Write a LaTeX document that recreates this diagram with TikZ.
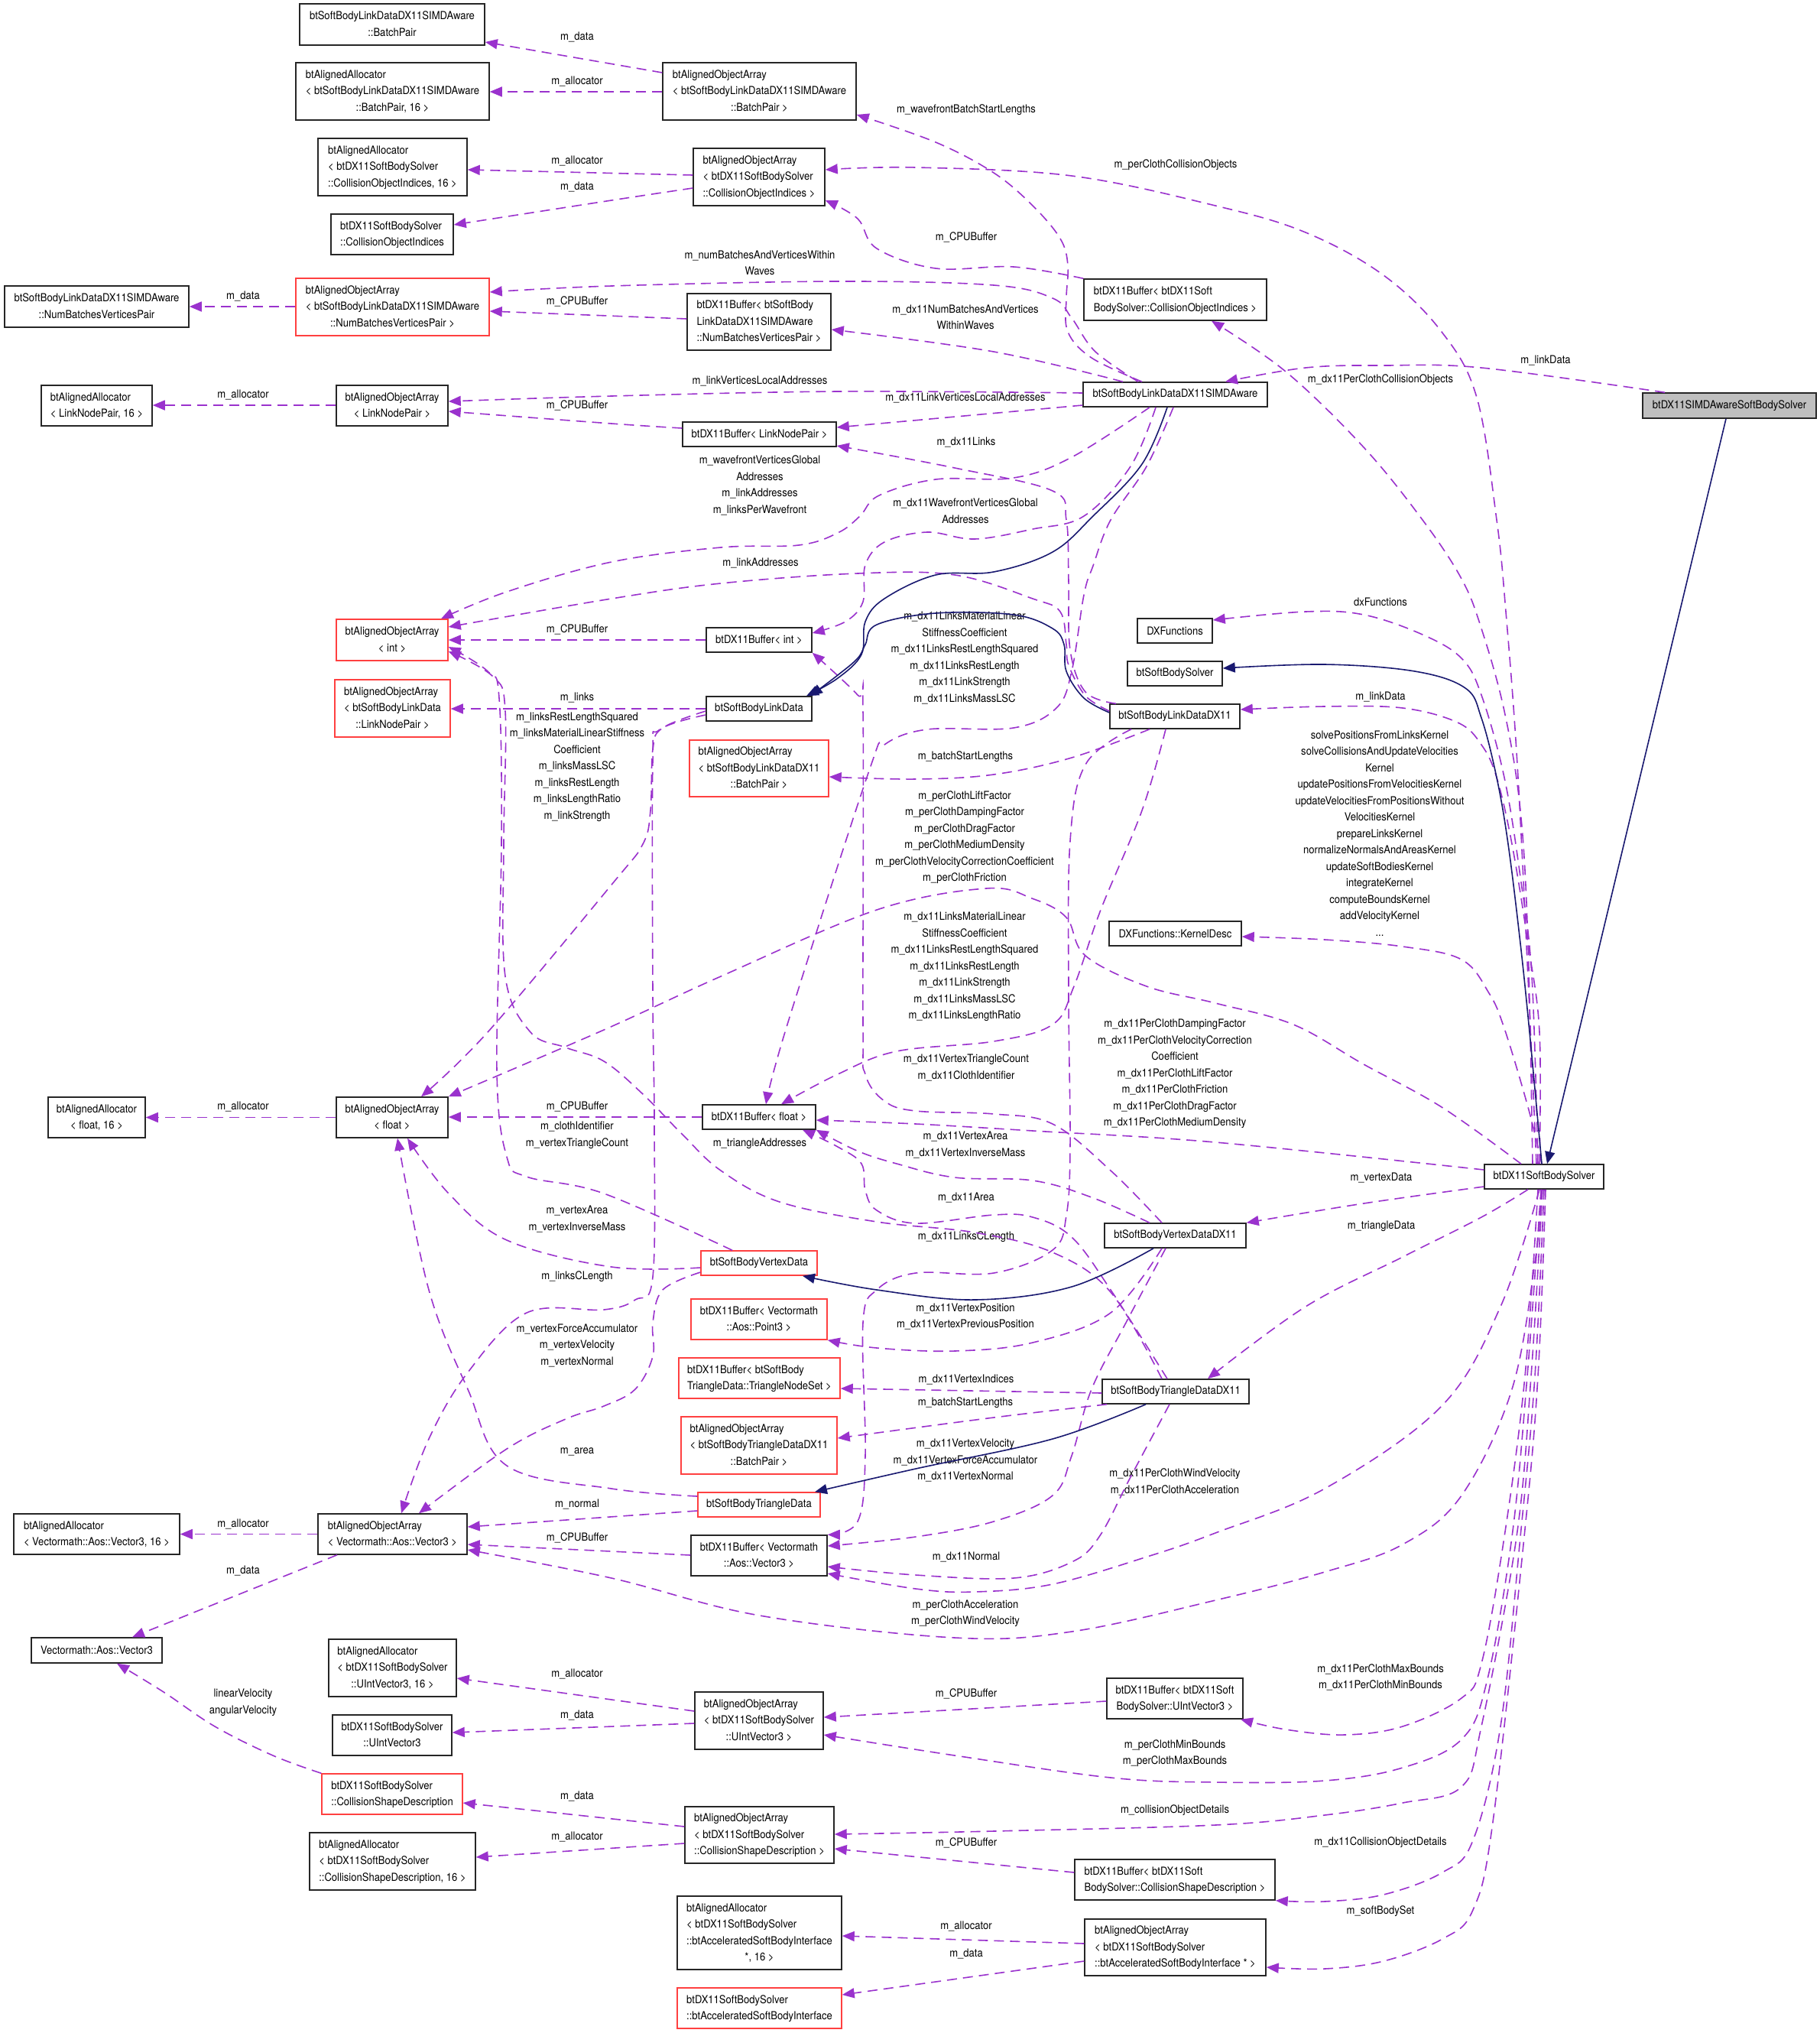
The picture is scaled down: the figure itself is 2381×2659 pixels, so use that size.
\documentclass[tikz,border=0pt]{standalone}
\usepackage{fontspec}
\setmainfont{TeX Gyre Heros}[FakeStretch=0.9]
\usetikzlibrary{arrows.meta}
\definecolor{orch}{RGB}{154,50,205}
\definecolor{mnavy}{RGB}{25,25,112}
\definecolor{redbox}{RGB}{255,64,64}
\definecolor{gfill}{RGB}{191,191,191}
\newcommand\fnt{\fontsize{14.5}{21.5}\selectfont}
\newcommand\twol[2]{\begin{tabular}{@{}l@{}}#1\\\multicolumn{1}{@{}c@{}}{#2}\end{tabular}}
\newcommand\threel[3]{\begin{tabular}{@{}l@{}}#1\\#2\\\multicolumn{1}{@{}c@{}}{#3}\end{tabular}}
\newcommand\fourl[4]{\begin{tabular}{@{}l@{}}#1\\#2\\#3\\\multicolumn{1}{@{}c@{}}{#4}\end{tabular}}
\begin{document}
\begin{tikzpicture}[x=1pt,y=-1pt,
 box/.style={draw=black!85,line width=1.5pt,inner xsep=3pt,inner ysep=0pt,font=\fnt},
 redb/.style={box,draw=redbox},
 lab/.style={font=\fnt,align=center,inner sep=0pt},
 dep/.style={draw=orch,line width=1.6pt,dash pattern=on 13pt off 8pt,-{Triangle[length=16pt,width=13pt,fill=orch]}},
 inh/.style={draw=mnavy,line width=1.6pt,-{Triangle[length=16pt,width=13pt,fill=mnavy]}},
 sm/.style={smooth,tension=0.6}]
\fill[white] (0,0) rectangle (2381,2659);
\useasboundingbox (0,0) rectangle (2381,2659);
% ---------------- nodes
\node[box,minimum width=242,minimum height=54] (N1) at (513,32) {\twol{btSoftBodyLinkDataDX11SIMDAware}{::BatchPair}};
\node[box,minimum width=253,minimum height=75] (N2) at (513.5,119.5) {\threel{btAlignedAllocator}{< btSoftBodyLinkDataDX11SIMDAware}{::BatchPair, 16 >}};
\node[box,minimum width=195,minimum height=75] (N3) at (513.5,218.5) {\threel{btAlignedAllocator}{< btDX11SoftBodySolver}{::CollisionObjectIndices, 16 >}};
\node[box,minimum width=160,minimum height=53] (N4) at (513,306.5) {\twol{btDX11SoftBodySolver}{::CollisionObjectIndices}};
\node[box,minimum width=241,minimum height=54] (N5) at (126.5,401) {\twol{btSoftBodyLinkDataDX11SIMDAware}{::NumBatchesVerticesPair}};
\node[redb,minimum width=253,minimum height=75] (N6) at (513.5,401.5) {\threel{btAlignedObjectArray}{< btSoftBodyLinkDataDX11SIMDAware}{::NumBatchesVerticesPair >}};
\node[box,minimum width=145,minimum height=53] (N7) at (126.5,530.5) {\twol{btAlignedAllocator}{< LinkNodePair, 16 >}};
\node[box,minimum width=146,minimum height=53] (N8) at (513,530.5) {\twol{btAlignedObjectArray}{< LinkNodePair >}};
\node[box,minimum width=253,minimum height=75] (N9) at (993.5,119.5) {\threel{btAlignedObjectArray}{< btSoftBodyLinkDataDX11SIMDAware}{::BatchPair >}};
\node[box,minimum width=172,minimum height=75] (N10) at (993,231.5) {\threel{btAlignedObjectArray}{< btDX11SoftBodySolver}{::CollisionObjectIndices >}};
\node[box,minimum width=188,minimum height=74] (N11) at (993,421) {\threel{btDX11Buffer< btSoftBody}{LinkDataDX11SIMDAware}{::NumBatchesVerticesPair >}};
\node[box,minimum width=239,minimum height=54] (N12) at (1537.5,392) {\twol{btDX11Buffer< btDX11Soft}{BodySolver::CollisionObjectIndices >}};
\node[box,minimum width=241,minimum height=32] (N13) at (1537.5,516) {btSoftBodyLinkDataDX11SIMDAware};
\node[box,minimum width=201,minimum height=32] (N14) at (993.5,568) {btDX11Buffer< LinkNodePair >};
\node[box,fill=gfill,minimum width=227,minimum height=33] (N15) at (2262.5,530.5) {btDX11SIMDAwareSoftBodySolver};
\node[redb,minimum width=146,minimum height=54] (N16) at (513,837) {\twol{btAlignedObjectArray}{< int >}};
\node[redb,minimum width=151,minimum height=75] (N17) at (513.5,926.5) {\threel{btAlignedObjectArray}{< btSoftBodyLinkData}{::LinkNodePair >}};
\node[box,minimum width=138,minimum height=32] (N18) at (993,837) {btDX11Buffer< int >};
\node[box,minimum width=138,minimum height=32] (N19) at (993,927) {btSoftBodyLinkData};
\node[redb,minimum width=182,minimum height=74] (N20) at (993,1005) {\threel{btAlignedObjectArray}{< btSoftBodyLinkDataDX11}{::BatchPair >}};
\node[box,minimum width=98,minimum height=32] (N21) at (1537,825) {DXFunctions};
\node[box,minimum width=124,minimum height=32] (N22) at (1537,881) {btSoftBodySolver};
\node[box,minimum width=170,minimum height=32] (N23) at (1537,937) {btSoftBodyLinkDataDX11};
\node[box,minimum width=173,minimum height=32] (N24) at (1537.5,1221) {DXFunctions::KernelDesc};
\node[box,minimum width=127,minimum height=53] (N25) at (126.5,1461.5) {\twol{btAlignedAllocator}{< float, 16 >}};
\node[box,minimum width=146,minimum height=53] (N26) at (513,1461.5) {\twol{btAlignedObjectArray}{< float >}};
\node[box,minimum width=217,minimum height=53] (N27) at (126.5,2006.5) {\twol{btAlignedAllocator}{< Vectormath::Aos::Vector3, 16 >}};
\node[box,minimum width=195,minimum height=53] (N28) at (513.5,2006.5) {\twol{btAlignedObjectArray}{< Vectormath::Aos::Vector3 >}};
\node[box,minimum width=148,minimum height=32] (N29) at (993,1461) {btDX11Buffer< float >};
\node[redb,minimum width=152,minimum height=32] (N30) at (993,1652) {btSoftBodyVertexData};
\node[redb,minimum width=178,minimum height=53] (N31) at (993,1725.5) {\twol{btDX11Buffer< Vectormath}{::Aos::Point3 >}};
\node[redb,minimum width=211,minimum height=53] (N32) at (993.5,1802.5) {\twol{btDX11Buffer< btSoftBody}{TriangleData::TriangleNodeSet >}};
\node[redb,minimum width=204,minimum height=75] (N33) at (993,1890.5) {\threel{btAlignedObjectArray}{< btSoftBodyTriangleDataDX11}{::BatchPair >}};
\node[redb,minimum width=160,minimum height=32] (N34) at (993,1968) {btSoftBodyTriangleData};
\node[box,minimum width=178,minimum height=53] (N35) at (993,2034.5) {\twol{btDX11Buffer< Vectormath}{::Aos::Vector3 >}};
\node[box,minimum width=185,minimum height=32] (N36) at (1537.5,1616) {btSoftBodyVertexDataDX11};
\node[box,minimum width=192,minimum height=32] (N37) at (1538,1820) {btSoftBodyTriangleDataDX11};
\node[box,minimum width=156,minimum height=32] (N38) at (2020,1539) {btDX11SoftBodySolver};
\node[box,minimum width=171,minimum height=33] (N39) at (126.5,2158.5) {Vectormath::Aos::Vector3};
\node[box,minimum width=167,minimum height=75] (N40) at (513.5,2181.5) {\threel{btAlignedAllocator}{< btDX11SoftBodySolver}{::UIntVector3, 16 >}};
\node[box,minimum width=156,minimum height=53] (N41) at (513,2269.5) {\twol{btDX11SoftBodySolver}{::UIntVector3}};
\node[redb,minimum width=184,minimum height=53] (N42) at (513,2346.5) {\twol{btDX11SoftBodySolver}{::CollisionShapeDescription}};
\node[box,minimum width=217,minimum height=75] (N43) at (513.5,2434.5) {\threel{btAlignedAllocator}{< btDX11SoftBodySolver}{::CollisionShapeDescription, 16 >}};
\node[box,minimum width=168,minimum height=75] (N44) at (993,2250.5) {\threel{btAlignedObjectArray}{< btDX11SoftBodySolver}{::UIntVector3 >}};
\node[box,minimum width=178,minimum height=53] (N45) at (1537,2221.5) {\twol{btDX11Buffer< btDX11Soft}{BodySolver::UIntVector3 >}};
\node[box,minimum width=195,minimum height=74] (N46) at (993.5,2400) {\threel{btAlignedObjectArray}{< btDX11SoftBodySolver}{::CollisionShapeDescription >}};
\node[box,minimum width=262,minimum height=53] (N47) at (1537,2458.5) {\twol{btDX11Buffer< btDX11Soft}{BodySolver::CollisionShapeDescription >}};
\node[box,minimum width=215,minimum height=96] (N48) at (993.5,2528) {\fourl{btAlignedAllocator}{< btDX11SoftBodySolver}{::btAcceleratedSoftBodyInterface}{*, 16 >}};
\node[redb,minimum width=215,minimum height=53] (N49) at (993.5,2626.5) {\twol{btDX11SoftBodySolver}{::btAcceleratedSoftBodyInterface}};
\node[box,minimum width=237,minimum height=74] (N50) at (1537.5,2547) {\threel{btAlignedObjectArray}{< btDX11SoftBodySolver}{::btAcceleratedSoftBodyInterface * >}};
% ---------------- labels
\node[lab] (l1) at (755,48) {m\_data};
\node[lab] (l2) at (755,106) {m\_allocator};
\node[lab] (l3) at (755,210) {m\_allocator};
\node[lab] (l4) at (755,244) {m\_data};
\node[lab] (l5) at (318,387) {m\_data};
\node[lab] (l6) at (755,394) {m\_CPUBuffer};
\node[lab] (l7) at (318,516) {m\_allocator};
\node[lab] (l8) at (755,530) {m\_CPUBuffer};
\node[lab] (l9) at (1264,144) {m\_wavefrontBatchStartLengths};
\node[lab] (l10) at (1538,216) {m\_perClothCollisionObjects};
\node[lab] (l11) at (1264,310) {m\_CPUBuffer};
\node[lab] (l12) at (994,344) {m\_numBatchesAndVerticesWithin\\Waves};
\node[lab] (l13) at (1263,415) {m\_dx11NumBatchesAndVertices\\WithinWaves};
\node[lab] (l14) at (994,498) {m\_linkVerticesLocalAddresses};
\node[lab] (l15) at (1263,520) {m\_dx11LinkVerticesLocalAddresses};
\node[lab] (l16) at (1264,578) {m\_dx11Links};
\node[lab] (l17) at (994,635) {m\_wavefrontVerticesGlobal\\Addresses\\m\_linkAddresses\\m\_linksPerWavefront};
\node[lab] (l18) at (1263,668) {m\_dx11WavefrontVerticesGlobal\\Addresses};
\node[lab] (l19) at (2022,471) {m\_linkData};
\node[lab] (l20) at (1806,497) {m\_dx11PerClothCollisionObjects};
\node[lab] (l21) at (995,736) {m\_linkAddresses};
\node[lab] (l22) at (755,823) {m\_CPUBuffer};
\node[lab] (l23) at (755,912) {m\_links};
\node[lab] (l24) at (755,1003) {m\_linksRestLengthSquared\\m\_linksMaterialLinearStiffness\\Coefficient\\m\_linksMassLSC\\m\_linksRestLength\\m\_linksLengthRatio\\m\_linkStrength};
\node[lab] (l25) at (1806,787) {dxFunctions};
\node[lab] (l26) at (1806,911) {m\_linkData};
\node[lab] (l27) at (1805,1090) {solvePositionsFromLinksKernel\\solveCollisionsAndUpdateVelocities\\Kernel\\updatePositionsFromVelocitiesKernel\\updateVelocitiesFromPositionsWithout\\VelocitiesKernel\\prepareLinksKernel\\normalizeNormalsAndAreasKernel\\updateSoftBodiesKernel\\integrateKernel\\computeBoundsKernel\\addVelocityKernel\\...};
\node[lab] (l28) at (1262,860.5) {m\_dx11LinksMaterialLinear\\StiffnessCoefficient\\m\_dx11LinksRestLengthSquared\\m\_dx11LinksRestLength\\m\_dx11LinkStrength\\m\_dx11LinksMassLSC};
\node[lab] (l29) at (1263,990) {m\_batchStartLengths};
\node[lab] (l30) at (1262,1095) {m\_perClothLiftFactor\\m\_perClothDampingFactor\\m\_perClothDragFactor\\m\_perClothMediumDensity\\m\_perClothVelocityCorrectionCoefficient\\m\_perClothFriction};
\node[lab] (l31) at (1262,1264.5) {m\_dx11LinksMaterialLinear\\StiffnessCoefficient\\m\_dx11LinksRestLengthSquared\\m\_dx11LinksRestLength\\m\_dx11LinkStrength\\m\_dx11LinksMassLSC\\m\_dx11LinksLengthRatio};
\node[lab] (l32) at (1537,1404.5) {m\_dx11PerClothDampingFactor\\m\_dx11PerClothVelocityCorrection\\Coefficient\\m\_dx11PerClothLiftFactor\\m\_dx11PerClothFriction\\m\_dx11PerClothDragFactor\\m\_dx11PerClothMediumDensity};
\node[lab] (l33) at (318,1447) {m\_allocator};
\node[lab] (l34) at (755,1447) {m\_CPUBuffer};
\node[lab] (l35) at (755,1485) {m\_clothIdentifier\\m\_vertexTriangleCount};
\node[lab] (l36) at (755,1594.5) {m\_vertexArea\\m\_vertexInverseMass};
\node[lab] (l37) at (755,1670) {m\_linksCLength};
\node[lab] (l38) at (755,1759.5) {m\_vertexForceAccumulator\\m\_vertexVelocity\\m\_vertexNormal};
\node[lab] (l39) at (755,1899) {m\_area};
\node[lab] (l40) at (755,1967) {m\_normal};
\node[lab] (l41) at (755,2011) {m\_CPUBuffer};
\node[lab] (l42) at (1264,1396.5) {m\_dx11VertexTriangleCount\\m\_dx11ClothIdentifier};
\node[lab] (l43) at (994,1496) {m\_triangleAddresses};
\node[lab] (l44) at (1263,1497.5) {m\_dx11VertexArea\\m\_dx11VertexInverseMass};
\node[lab] (l45) at (1264,1566) {m\_dx11Area};
\node[lab] (l46) at (1264,1618) {m\_dx11LinksCLength};
\node[lab] (l47) at (1263,1722) {m\_dx11VertexPosition\\m\_dx11VertexPreviousPosition};
\node[lab] (l48) at (1264,1804) {m\_dx11VertexIndices};
\node[lab] (l49) at (1263,1835) {m\_batchStartLengths};
\node[lab] (l50) at (1263,1910) {m\_dx11VertexVelocity\\m\_dx11VertexForceAccumulator\\m\_dx11VertexNormal};
\node[lab] (l51) at (1537,1938.5) {m\_dx11PerClothWindVelocity\\m\_dx11PerClothAcceleration};
\node[lab] (l52) at (1807,1540) {m\_vertexData};
\node[lab] (l53) at (1807,1604) {m\_triangleData};
\node[lab] (l54) at (318,1993) {m\_allocator};
\node[lab] (l55) at (318,2054) {m\_data};
\node[lab] (l56) at (318,2227) {linearVelocity\\angularVelocity};
\node[lab] (l57) at (1264,2036) {m\_dx11Normal};
\node[lab] (l58) at (1263,2110) {m\_perClothAcceleration\\m\_perClothWindVelocity};
\node[lab] (l59) at (1264,2215) {m\_CPUBuffer};
\node[lab] (l60) at (1537,2293) {m\_perClothMinBounds\\m\_perClothMaxBounds};
\node[lab] (l61) at (1537,2368) {m\_collisionObjectDetails};
\node[lab] (l62) at (1264,2410) {m\_CPUBuffer};
\node[lab] (l63) at (1264,2519) {m\_allocator};
\node[lab] (l64) at (1264,2555) {m\_data};
\node[lab] (l65) at (755,2189) {m\_allocator};
\node[lab] (l66) at (755,2243) {m\_data};
\node[lab] (l67) at (755,2349) {m\_data};
\node[lab] (l68) at (755,2402) {m\_allocator};
\node[lab] (l69) at (1806,2194) {m\_dx11PerClothMaxBounds\\m\_dx11PerClothMinBounds};
\node[lab] (l70) at (1806,2410) {m\_dx11CollisionObjectDetails};
\node[lab] (l71) at (1806,2500) {m\_softBodySet};
% ---------------- edges: top
\draw[dep] (N9.west |- 0,95) -- (N1.east |- 0,55);
\draw[dep] (N9.west |- 0,120) -- (N2.east |- 0,120);
\draw[dep] (N10.west |- 0,229) -- (N3.east |- 0,222);
\draw[dep] plot[sm] coordinates {(N10.west |- 0,246) (800,262) (N4.east |- 0,294)};
\draw[dep] (N6.west |- 0,401) -- (N5.east |- 0,401);
\draw[dep] (N8.west |- 0,530) -- (N7.east |- 0,530);
\draw[dep] (N11.west |- 0,417) -- (N6.east |- 0,407);
\draw[dep] plot[sm] coordinates {(N13.north -| 1489,0) (1433,460) (1402,416) (1377,390) (1300,373) (1096,368) (800,374) (N6.east |- 0,382)};
\draw[dep] plot[sm] coordinates {(N13.north -| 1469,0) (1300,460) (N11.east |- 0,431)};
\draw[dep] plot[sm] coordinates {(N13.west |- 0,514) (1096,512) (800,518) (N8.east |- 0,525)};
\draw[dep] plot[sm] coordinates {(N14.west |- 0,560) (800,554) (N8.east |- 0,538)};
\draw[dep] (N13.west |- 0,530) -- (N14.east |- 0,559);
\draw[dep] plot[sm] coordinates {(N23.north -| 1460,0) (1420,905) (1400,850) (1398,760) (1395,680) (1377,642) (1249,612) (N14.east |- 0,583)};
\draw[dep] plot[sm] coordinates {(N13.north -| 1494,0) (1428,468) (1397,434) (1395,390) (1397,347) (1387,312) (1351,269) (1300,226) (1224,186) (N9.east |- 0,150)};
\draw[dep] plot[sm] coordinates {(N38.north -| 2010,0) (2000,1300) (1985,1000) (1970,800) (1958,680) (1932,520) (1886,434) (1810,360) (1708,304) (1590,269) (1402,230) (1198,219) (N10.east |- 0,222)};
\draw[dep] plot[sm] coordinates {(N12.north west) (1326,349) (1224,351) (1147,325) (1122,286) (N10.east |- 0,262)};
\draw[dep] plot[sm] coordinates {(N38.north -| 2005,0) (1999,1234) (1989,1060) (1968,930) (1938,822) (1912,757) (1861,680) (1784,585) (1682,486) (N12.south -| 1585,0)};
\draw[dep] plot[sm] coordinates {(N15.north -| 2178,0) (1938,481) (1810,478) (1708,481) (N13.north -| 1603,0)};
\draw[dep] plot[sm] coordinates {(N13.south -| 1504,0) (1402,598) (1326,625) (1224,627) (1150,648) (1125,675) (1096,697) (1045,713) (943,716) (800,735) (663,774) (N16.north -| 577,0)};
\draw[dep] plot[sm] coordinates {(N13.south -| 1512,0) (1479,610) (1418,675) (1351,692) (1275,705) (1213,696) (1157,709) (1132,739) (1129,787) (1106,813) (N18.east |- 0,828)};
\draw[dep] plot[sm] coordinates {(N23.west |- 0,930) (1420,910) (1398,870) (1395,843) (1387,800) (1351,783) (1249,752) (1122,750) (943,763) (800,783) (N16.east |- 0,820)};
\draw[dep] (N18.west) -- (N16.east);
\draw[dep] (N19.west) -- (N17.east |- N19.west);
\draw[dep] plot[sm] coordinates {(N19.west |- 0,930) (867,952) (854,980) (851,1060) (841,1104) (801,1156) (638,1350) (N26.north -| 551,0)};
\draw[dep] plot[sm] coordinates {(N19.west |- 0,935) (862,955) (854,995) (854,1300) (856,1470) (854,1670) (831,1700) (790,1713) (689,1717) (612,1795) (561,1882) (N28.north -| 525,0)};
\draw[dep] plot[sm] coordinates {(N30.north -| 958,0) (790,1561) (689,1539) (663,1513) (650,1400) (656,1104) (653,913) (638,878) (N16.east |- 0,846)};
\draw[dep] plot[sm] coordinates {(N37.north -| 1520,0) (1453,1690) (1377,1638) (1275,1612) (1147,1598) (1020,1572) (943,1531) (892,1483) (841,1431) (790,1388) (740,1370) (694,1350) (661,1277) (659,1104) (661,930) (645,885) (N16.east |- 0,852)};
\draw[dep] plot[sm] coordinates {(N13.south -| 1535,0) (1500,610) (1453,680) (1430,740) (1418,778) (1402,878) (1382,926) (1326,952) (1213,954) (1157,974) (1137,1008) (1030,1340) (N29.north -| 1002,0)};
\draw[dep] plot[sm] coordinates {(N23.south -| 1525,0) (1494,1060) (1440,1190) (1405,1290) (1377,1340) (1300,1362) (1173,1375) (1096,1405) (N29.north -| 1022,0)};
\draw[dep] plot[sm] coordinates {(N23.south -| 1504,0) (1402,991) (1300,1013) (1198,1019) (N20.east |- 0,1016)};
\draw[dep] plot[sm] coordinates {(N23.south -| 1480,0) (1420,1000) (1400,1100) (1398,1300) (1400,1500) (1395,1590) (1377,1635) (1300,1665) (1198,1665) (1147,1687) (1129,1730) (1132,1904) (1122,1990) (N35.north east)};
\draw[dep] plot[sm] coordinates {(N38.north -| 1990,0) (1886,1448) (1784,1392) (1692,1340) (1590,1312) (1500,1290) (1420,1250) (1395,1200) (1350,1175) (1290,1162) (1147,1190) (943,1277) (790,1347) (N26.north east)};
\draw[dep] plot[sm] coordinates {(N38.west |- 0,1530) (1590,1494) (1351,1479) (1198,1470) (N29.east |- 0,1465)};
\draw[dep] plot[sm] coordinates {(N36.north -| 1520,0) (1453,1531) (1377,1470) (1300,1457) (1198,1453) (1157,1440) (1132,1405) (1129,1340) (1129,930) (1122,909) (N18.south east)};
\draw[dep] plot[sm] coordinates {(N36.north -| 1504,0) (1428,1566) (1351,1544) (1249,1540) (1173,1522) (1121,1505) (N29.south east)};
\draw[dep] plot[sm] coordinates {(N37.north -| 1527,0) (1453,1687) (1402,1618) (1351,1592) (1300,1589) (1198,1600) (1147,1583) (1132,1557) (1127,1522) (1096,1500) (N29.south -| 1050,0)};
\draw[dep] plot[sm] coordinates {(N38.west |- 0,1552) (1784,1574) (N36.north east)};
\draw[dep] plot[sm] coordinates {(N38.south -| 1999,0) (1938,1592) (1835,1644) (1708,1709) (N37.north -| 1580,0)};
\draw[dep] plot[sm] coordinates {(N36.south -| 1520,0) (1453,1717) (1351,1756) (1249,1767) (1147,1763) (N31.south east)};
\draw[dep] (N37.west |- 0,1822) -- (N32.east |- 0,1816);
\draw[dep] plot[sm] coordinates {(N37.south -| 1448,0) (1300,1854) (N33.east |- 0,1881)};
\draw[dep] plot[sm] coordinates {(N36.south -| 1525,0) (1473,1730) (1428,1817) (1402,1904) (1377,1956) (1300,1990) (1198,2010) (N35.east |- 0,2022)};
\draw[dep] plot[sm] coordinates {(N37.south -| 1530,0) (1480,1930) (1438,2010) (1402,2043) (1326,2064) (1198,2060) (N35.east |- 0,2049)};
\draw[dep] plot[sm] coordinates {(N38.south -| 2014,0) (1963,1709) (1886,1839) (1733,1947) (1590,2005) (1504,2035) (1377,2072) (1275,2082) (1198,2078) (N35.east |- 0,2058)};
\draw[dep] plot[sm] coordinates {(N38.south -| 2017,0) (2009,1644) (1978,1817) (1912,1956) (1835,2020) (1733,2056) (1590,2093) (1402,2134) (1249,2142) (994,2113) (800,2064) (N28.east |- 0,2027)};
\draw[dep] (N35.west |- 0,2034) -- (N28.east |- 0,2020);
\draw[dep] (N34.west |- 0,1976) -- (N28.east |- 0,1997);
\draw[dep] plot[sm] coordinates {(N34.west |- 0,1957) (800,1947) (663,1917) (612,1817) (561,1687) (N26.south -| 520,0)};
\draw[dep] plot[sm] coordinates {(N30.west |- 0,1658) (800,1657) (663,1622) (587,1561) (N26.south -| 533,0)};
\draw[dep] plot[sm] coordinates {(N30.west |- 0,1664) (867,1687) (854,1730) (854,1774) (831,1817) (790,1839) (740,1856) (663,1895) (N28.north -| 548,0)};
\draw[dep] (N28.west) -- (N27.east);
\draw[dep] (N28.south -| 441,0) -- (N39.north -| 173,0);
\draw[dep] plot[sm] coordinates {(N42.north west) (357,2296) (281,2258) (214,2213) (N39.south -| 153,0)};
\draw[dep] (N29.west) -- (N26.east |- N29.west);
\draw[dep] (N26.west) -- (N25.east);
\draw[dep] plot[sm] coordinates {(N38.north -| 2017,0) (1999,1448) (1968,1345) (1948,1299) (1912,1255) (1835,1238) (1733,1229) (N24.east |- 0,1225)};
\draw[dep] plot[sm] coordinates {(N38.north -| 2014,0) (2014,1350) (1999,1234) (1978,1104) (1958,1017) (1938,974) (1907,945) (1835,926) (1733,924) (N23.east |- 0,928)};
\draw[dep] plot[sm] coordinates {(N38.north -| 2012,0) (2004,1277) (1989,1147) (1968,1017) (1938,909) (1912,861) (1861,830) (1784,804) (1708,800) (N21.east |- 0,811)};
% lower right
\draw[dep] plot[sm] coordinates {(N38.south -| 2012,0) (1995,1800) (1968,2010) (1938,2176) (1912,2221) (1835,2258) (1759,2269) (1682,2262) (N45.south -| 1623,0)};
\draw[dep] plot[sm] coordinates {(N38.south -| 2016,0) (1998,1800) (1978,2010) (1945,2200) (1912,2275) (1835,2312) (1733,2329) (1590,2331) (1453,2325) (1249,2296) (N44.east |- 0,2269)};
\draw[dep] plot[sm] coordinates {(N38.south -| 2018,0) (2003,1800) (1984,2010) (1938,2258) (1912,2337) (1835,2358) (1733,2374) (1590,2387) (1300,2395) (N46.east |- 0,2399)};
\draw[dep] plot[sm] coordinates {(N38.south -| 2020,0) (2008,1800) (1989,2010) (1963,2258) (1927,2407) (1887,2449) (1810,2478) (1733,2487) (N47.south east)};
\draw[dep] plot[sm] coordinates {(N38.south -| 2022,0) (2012,1800) (1994,2010) (1953,2383) (1927,2498) (1887,2536) (1810,2565) (1733,2575) (N50.east |- 0,2573)};
\draw[dep] (N45.west |- 0,2225) -- (N44.east |- 0,2246);
\draw[dep] (N44.west |- 0,2238) -- (N40.east |- 0,2195);
\draw[dep] (N44.west |- 0,2254) -- (N41.east |- 0,2266);
\draw[dep] (N47.west |- 0,2449) -- (N46.east |- 0,2418);
\draw[dep] (N46.west |- 0,2389) -- (N42.east |- 0,2358);
\draw[dep] (N46.west |- 0,2411) -- (N43.east |- 0,2429);
\draw[dep] (N50.west |- 0,2542) -- (N48.east |- 0,2532);
\draw[dep] (N50.west |- 0,2565) -- (N49.east |- 0,2609);
% inheritance
\draw[inh] (N15.south -| 2258,0) -- (N38.north -| 2024,0);
\draw[inh] plot[sm] coordinates {(N38.north -| 2017,0) (2001,1350) (1989,1234) (1973,1104) (1958,1017) (1938,939) (1917,900) (1851,878) (1733,869) (N22.east |- 0,874)};
\draw[inh] plot[sm] coordinates {(N13.south -| 1527,0) (1494,607) (1430,675) (1377,722) (1300,748) (1224,752) (1157,783) (1132,813) (1127,856) (1096,887) (N19.north -| 1055,0)};
\draw[inh] plot[sm] coordinates {(N23.west |- 0,932) (1418,913) (1395,878) (1392,843) (1377,822) (1326,804) (1224,802) (1147,817) (1132,843) (1122,861) (1096,883) (N19.north -| 1060,0)};
\draw[inh] plot[sm] coordinates {(N36.south -| 1509,0) (1402,1683) (1275,1700) (1147,1687) (N30.south -| 1050,0)};
\draw[inh] plot[sm] coordinates {(N37.south -| 1499,0) (1377,1882) (1198,1921) (N34.north -| 1066,0)};
\end{tikzpicture}
\end{document}
